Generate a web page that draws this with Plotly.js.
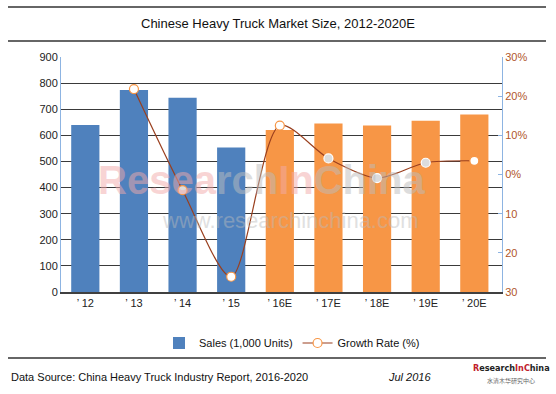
<!DOCTYPE html>
<html><head><meta charset="utf-8">
<script src="https://cdn.plot.ly/plotly-3.0.1.min.js"></script>
<style>body{margin:0;background:#fff}#chart{width:556px;height:394px}</style>
</head><body><div id="chart"></div>
<script>
var categories = ["’ 12","’ 13","’ 14","’ 15","’ 16E","’ 17E","’ 18E","’ 19E","’ 20E"];
var sales = [640, 774, 744, 553, 620, 645, 638, 656, 680];
var growthCats = ["’ 13","’ 14","’ 15","’ 16E","’ 17E","’ 18E","’ 19E","’ 20E"];
var growth = [21.8, -4.0, -26.1, 12.5, 4.1, -0.9, 3.0, 3.5];
var rightTickVals = [-30,-20,-10,0,10,20,30];
var rightTickText = ["30","20","10","0%","10%","20%","30%"];
var leftTickVals = [0,100,200,300,400,500,600,700,800,900];

var barColors = categories.map(function(c){ return /E$/.test(c) ? '#F79646' : '#4F81BD'; });

var traces = [
  {type:'bar', x:categories, y:sales, name:'Sales (1,000 Units)',
   marker:{color:barColors, line:{width:0}}, yaxis:'y'},
  {type:'scatter', mode:'lines+markers', x:growthCats, y:growth, name:'Growth Rate (%)',
   yaxis:'y2', line:{shape:'spline', smoothing:0.8, color:'#9A3F1E', width:1.2},
   marker:{symbol:'circle', size:9, color:['#FFFFFF','#DCDCDC','#FFFFFF','#FFFFFF','#DCDCDC','#DCDCDC','#DCDCDC','#FFFFFF'],
     line:{color:['#F79646','#F79646','#F79646','#F79646','#FFFFFF','#FFFFFF','#FFFFFF','#F79646'], width:1.2}}}
];

function px(x){ return (x-61)/441; }
function py(y){ return (292-y)/235; }

var layout = {
  width:556, height:394,
  margin:{l:61, r:54, t:57, b:102},
  paper_bgcolor:'#fff', plot_bgcolor:'#fff',
  font:{family:'Arial, Liberation Sans, sans-serif', size:11, color:'#222'},
  bargap:0.42,
  showlegend:true,
  legend:{orientation:'h', x:px(292), xanchor:'center', y:py(343), yanchor:'middle',
    font:{size:11, color:'#111'}, itemwidth:30, bgcolor:'rgba(0,0,0,0)'},
  xaxis:{type:'category', showgrid:false, showline:true, linecolor:'#404040', linewidth:1.5,
    ticks:'', tickfont:{size:11, color:'#222'}, fixedrange:true},
  yaxis:{range:[0,900], tickvals:leftTickVals, showgrid:true, gridcolor:'#3a3a3a', gridwidth:1,
    showline:true, linecolor:'#8DB4E2', linewidth:1, ticks:'', zeroline:false,
    tickfont:{size:11, color:'#222'}},
  yaxis2:{overlaying:'y', side:'right', range:[-30,30], tickvals:rightTickVals, ticktext:rightTickText,
    showgrid:false, zeroline:false, showline:true, linecolor:'#8DB4E2', linewidth:1,
    ticks:'inside', ticklen:4, tickcolor:'#8DB4E2', tickfont:{size:11, color:'#B0552A'}},
  shapes:[
    {type:'line', xref:'paper', yref:'paper', x0:px(8), x1:px(546), y0:py(7), y1:py(7), line:{color:'#333', width:1.5}},
    {type:'line', xref:'paper', yref:'paper', x0:px(8), x1:px(546), y0:py(41), y1:py(41), line:{color:'#666', width:2}},
    {type:'line', xref:'paper', yref:'paper', x0:px(8), x1:px(546), y0:py(358), y1:py(358), line:{color:'#666', width:2}}
  ],
  annotations:[
    {text:'Chinese Heavy Truck Market Size, 2012-2020E', xref:'paper', yref:'paper', x:px(278), y:py(24),
     xanchor:'center', yanchor:'middle', showarrow:false, font:{size:13, color:'#111'}},
    {text:'<b><span style="color:#F2AAAA">Resea</span><span style="color:#BDBDBD">rch</span><span style="color:#F2AAAA">In</span><span style="color:#BDBDBD">China</span></b>',
     xref:'paper', yref:'paper', x:px(262), y:py(180), xanchor:'center', yanchor:'middle', showarrow:false,
     opacity:0.5, font:{family:'Arial, Liberation Sans, sans-serif', size:40, color:'#C8C8C8'}},
    {text:'www.researchinchina.com', xref:'paper', yref:'paper', x:px(290), y:py(220), xanchor:'center', yanchor:'middle',
     showarrow:false, opacity:0.45, font:{size:22, color:'#BBBBBB'}},
    {text:'Data Source: China Heavy Truck Industry Report, 2016-2020', xref:'paper', yref:'paper', x:px(9), y:py(377),
     xanchor:'left', yanchor:'middle', showarrow:false, font:{size:11, color:'#111'}},
    {text:'<i>Jul 2016</i>', xref:'paper', yref:'paper', x:px(409), y:py(377), xanchor:'center', yanchor:'middle',
     showarrow:false, font:{size:11, color:'#111'}},
    {text:'<b><span style="color:#C0202A">R</span>esearch<span style="color:#C0202A">In</span><span style="color:#C0202A">C</span>hina</b>',
     xref:'paper', yref:'paper', x:px(511), y:py(368), xanchor:'center', yanchor:'middle', showarrow:false,
     font:{family:'DejaVu Sans Condensed, Arial', size:9, color:'#222'}},
    {text:'水清木华研究中心', xref:'paper', yref:'paper', x:px(511), y:py(380), xanchor:'center', yanchor:'middle',
     showarrow:false, font:{family:'Noto Sans CJK SC', size:6, color:'#666'}}
  ]
};
Plotly.newPlot('chart', traces, layout, {displayModeBar:false, staticPlot:true});
</script></body></html>
